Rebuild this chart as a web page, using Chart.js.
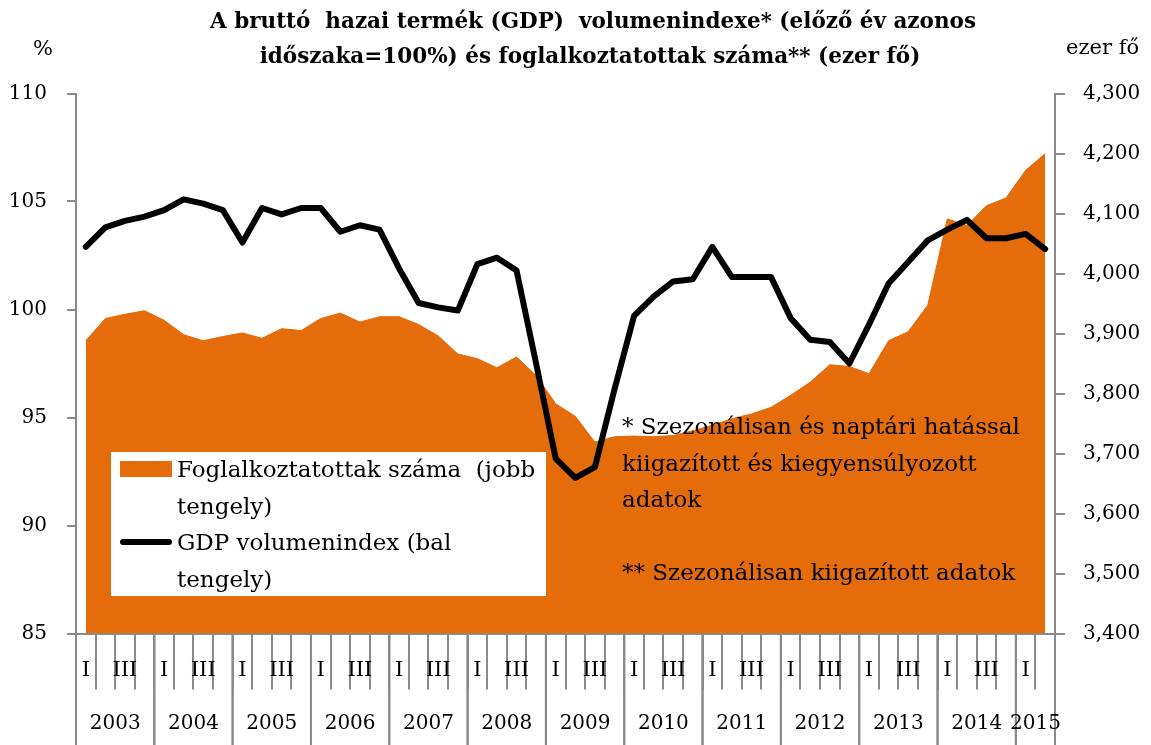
<!DOCTYPE html>
<html lang="hu">
<head>
<meta charset="utf-8">
<title>GDP volumenindex és foglalkoztatottak száma</title>
<script src="https://cdn.jsdelivr.net/npm/chart.js@4.4.1/dist/chart.umd.min.js"></script>
<style>
    html, body { margin: 0; padding: 0; background: #fff; }
    #wrap { width: 1151px; height: 745px; }
</style>
</head>
<body>
<div id="wrap"><canvas id="gdpChart" width="1151" height="745"></canvas></div>
<script>
// Évek / negyedévek
const years = ['2003', '2004', '2005', '2006', '2007', '2008', '2009',
               '2010', '2011', '2012', '2013', '2014', '2015'];
const quarterNames = ['I', 'II', 'III', 'IV'];
const quarterTicks = ['I', '', 'III', ''];

// GDP volumenindex (előző év azonos időszaka = 100%), bal tengely
const gdpIndex = [
    102.9, 103.8, 104.1, 104.3, 104.6, 105.1, 104.9, 104.6, 103.1, 104.7,
    104.4, 104.7, 104.7, 103.6, 103.9, 103.7, 101.9, 100.3, 100.1, 99.95,
    102.1, 102.4, 101.8, 97.5, 93.1, 92.2, 92.7, 96.3, 99.7, 100.6,
    101.3, 101.4, 102.9, 101.5, 101.5, 101.5, 99.6, 98.6, 98.5, 97.5,
    99.3, 101.2, 102.2, 103.2, 103.7, 104.15, 103.3, 103.3, 103.5, 102.8
];

// Foglalkoztatottak száma (ezer fő), jobb tengely
const employment = [
    3888, 3925, 3932, 3938, 3922, 3898, 3888, 3895, 3901, 3892,
    3908, 3905, 3925, 3934, 3919, 3928, 3928, 3915, 3896, 3866,
    3858, 3843, 3861, 3830, 3783, 3762, 3719, 3728, 3729, 3728,
    3730, 3738, 3747, 3758, 3766, 3777, 3797, 3819, 3848, 3845,
    3833, 3888, 3903, 3947, 4091, 4080, 4113, 4126, 4172, 4200
];

const leftRange = [85, 110, 5];
const rightRange = [3400, 4300, 100];

const titleLines = [
    'A bruttó  hazai termék (GDP)  volumenindexe* (előző év azonos',
    'időszaka=100%) és foglalkoztatottak száma** (ezer fő)'
];
const legendLines = [
    ['Foglalkoztatottak száma  (jobb', 'tengely)'],
    ['GDP volumenindex (bal', 'tengely)']
];
const noteLines = [
    '* Szezonálisan és naptári hatással',
    'kiigazított és kiegyensúlyozott',
    'adatok',
    '',
    '** Szezonálisan kiigazított adatok'
];

const quarterLabels = years
    .flatMap(y => quarterNames.map(q => y + ' ' + q))
    .slice(0, gdpIndex.length);

const ORANGE = '#E46C0A';
const AXIS_GRAY = '#8a8a8a';
const FONT = "'DejaVu Serif', 'Liberation Serif', serif";

Chart.defaults.font.family = FONT;
Chart.defaults.font.size = 20;
Chart.defaults.color = '#000';

/**
 * Cím, jelmagyarázat, megjegyzések és évszámok rajzolása
 */
const decorPlugin = {
    id: 'decor',
    afterDatasetsDraw(chart) {
        const ctx = chart.ctx;
        ctx.save();

        // Jelmagyarázat doboz
        ctx.fillStyle = '#fff';
        ctx.fillRect(111, 452, 435, 144);
        ctx.fillStyle = chart.data.datasets[1].backgroundColor;
        ctx.fillRect(120, 461, 52, 16);
        ctx.strokeStyle = chart.data.datasets[0].borderColor;
        ctx.lineWidth = 6;
        ctx.lineCap = 'round';
        ctx.beginPath();
        ctx.moveTo(123, 542);
        ctx.lineTo(169, 542);
        ctx.stroke();

        ctx.fillStyle = '#000';
        ctx.font = '23px ' + FONT;
        ctx.textAlign = 'left';
        ctx.textBaseline = 'alphabetic';
        legendLines.flat().forEach((t, i) => ctx.fillText(t, 177, 477 + i * 36.7));

        // Megjegyzések
        noteLines.forEach((t, i) => ctx.fillText(t, 622, 434 + i * 36.5));
        ctx.restore();
    },
    afterDraw(chart) {
        const ctx = chart.ctx;
        const x = chart.scales.x;
        const area = chart.chartArea;
        const pitch = x.getPixelForValue(1) - x.getPixelForValue(0);

        ctx.save();
        ctx.strokeStyle = AXIS_GRAY;
        ctx.lineWidth = 2;
        ctx.fillStyle = '#000';
        ctx.font = '20px ' + FONT;
        ctx.textAlign = 'center';
        ctx.textBaseline = 'middle';

        // Évek elválasztói és feliratai
        let start = 0;
        years.forEach(y => {
            const count = quarterLabels.filter(l => l.startsWith(y)).length;
            const x0 = x.getPixelForValue(start) - pitch / 2;
            const x1 = x.getPixelForValue(start + count - 1) + pitch / 2;
            [x0, x1].forEach(px => {
                ctx.beginPath();
                ctx.moveTo(px, area.bottom);
                ctx.lineTo(px, chart.height);
                ctx.stroke();
            });
            ctx.fillText(y, (x0 + x1) / 2, 724);
            start += count;
        });

        // Tengelyek mértékegysége
        ctx.font = '21px ' + FONT;
        ctx.textAlign = 'left';
        ctx.fillText('%', 33, 50);
        ctx.fillText('ezer fő', 1066, 49);

        // Cím
        ctx.font = 'bold 21.5px ' + FONT;
        ctx.textAlign = 'center';
        ctx.fillText(titleLines[0], 593, 22);
        ctx.fillText(titleLines[1], 590, 57);
        ctx.restore();
    }
};

const ctx = document.getElementById('gdpChart');

new Chart(ctx, {
    type: 'line',
    data: {
        labels: quarterLabels,
        datasets: [{
            label: 'GDP volumenindex (bal tengely)',
            data: gdpIndex,
            yAxisID: 'y',
            borderColor: '#000',
            borderWidth: 6,
            borderJoinStyle: 'round',
            borderCapStyle: 'round',
            pointRadius: 0,
            tension: 0,
            fill: false,
            order: 0
        }, {
            label: 'Foglalkoztatottak száma (jobb tengely)',
            data: employment,
            yAxisID: 'y1',
            borderColor: ORANGE,
            backgroundColor: ORANGE,
            borderWidth: 1,
            pointRadius: 0,
            tension: 0,
            fill: 'start',
            order: 1
        }]
    },
    options: {
        responsive: false,
        animation: false,
        layout: {
            padding: { top: 93.5, left: 0, right: 0, bottom: 0 }
        },
        plugins: {
            legend: { display: false },
            title: { display: false },
            tooltip: { enabled: false }
        },
        scales: {
            x: {
                type: 'category',
                offset: true,
                grid: {
                    offset: true,
                    drawOnChartArea: false,
                    drawTicks: true,
                    tickLength: 56,
                    color: AXIS_GRAY,
                    lineWidth: 2
                },
                border: { display: true, color: AXIS_GRAY, width: 2 },
                ticks: {
                    autoSkip: false,
                    maxRotation: 0,
                    padding: -32,
                    color: '#000',
                    font: { size: 21 },
                    callback: (value, index) => quarterTicks[index % 4]
                },
                afterFit: scale => { scale.height = 111.5; }
            },
            y: {
                position: 'left',
                min: leftRange[0],
                max: leftRange[1],
                ticks: { stepSize: leftRange[2], padding: 20, color: '#000' },
                grid: {
                    drawOnChartArea: false,
                    tickLength: 9,
                    color: AXIS_GRAY,
                    lineWidth: 2
                },
                border: { display: true, color: AXIS_GRAY, width: 2 },
                afterFit: scale => { scale.width = 76; }
            },
            y1: {
                position: 'right',
                min: rightRange[0],
                max: rightRange[1],
                ticks: {
                    stepSize: rightRange[2],
                    padding: 18,
                    color: '#000',
                    callback: v => v.toLocaleString('en-US')
                },
                grid: {
                    drawOnChartArea: false,
                    tickLength: 10,
                    color: AXIS_GRAY,
                    lineWidth: 2
                },
                border: { display: true, color: AXIS_GRAY, width: 2 },
                afterFit: scale => { scale.width = 96; }
            }
        }
    },
    plugins: [decorPlugin]
});
</script>
</body>
</html>
